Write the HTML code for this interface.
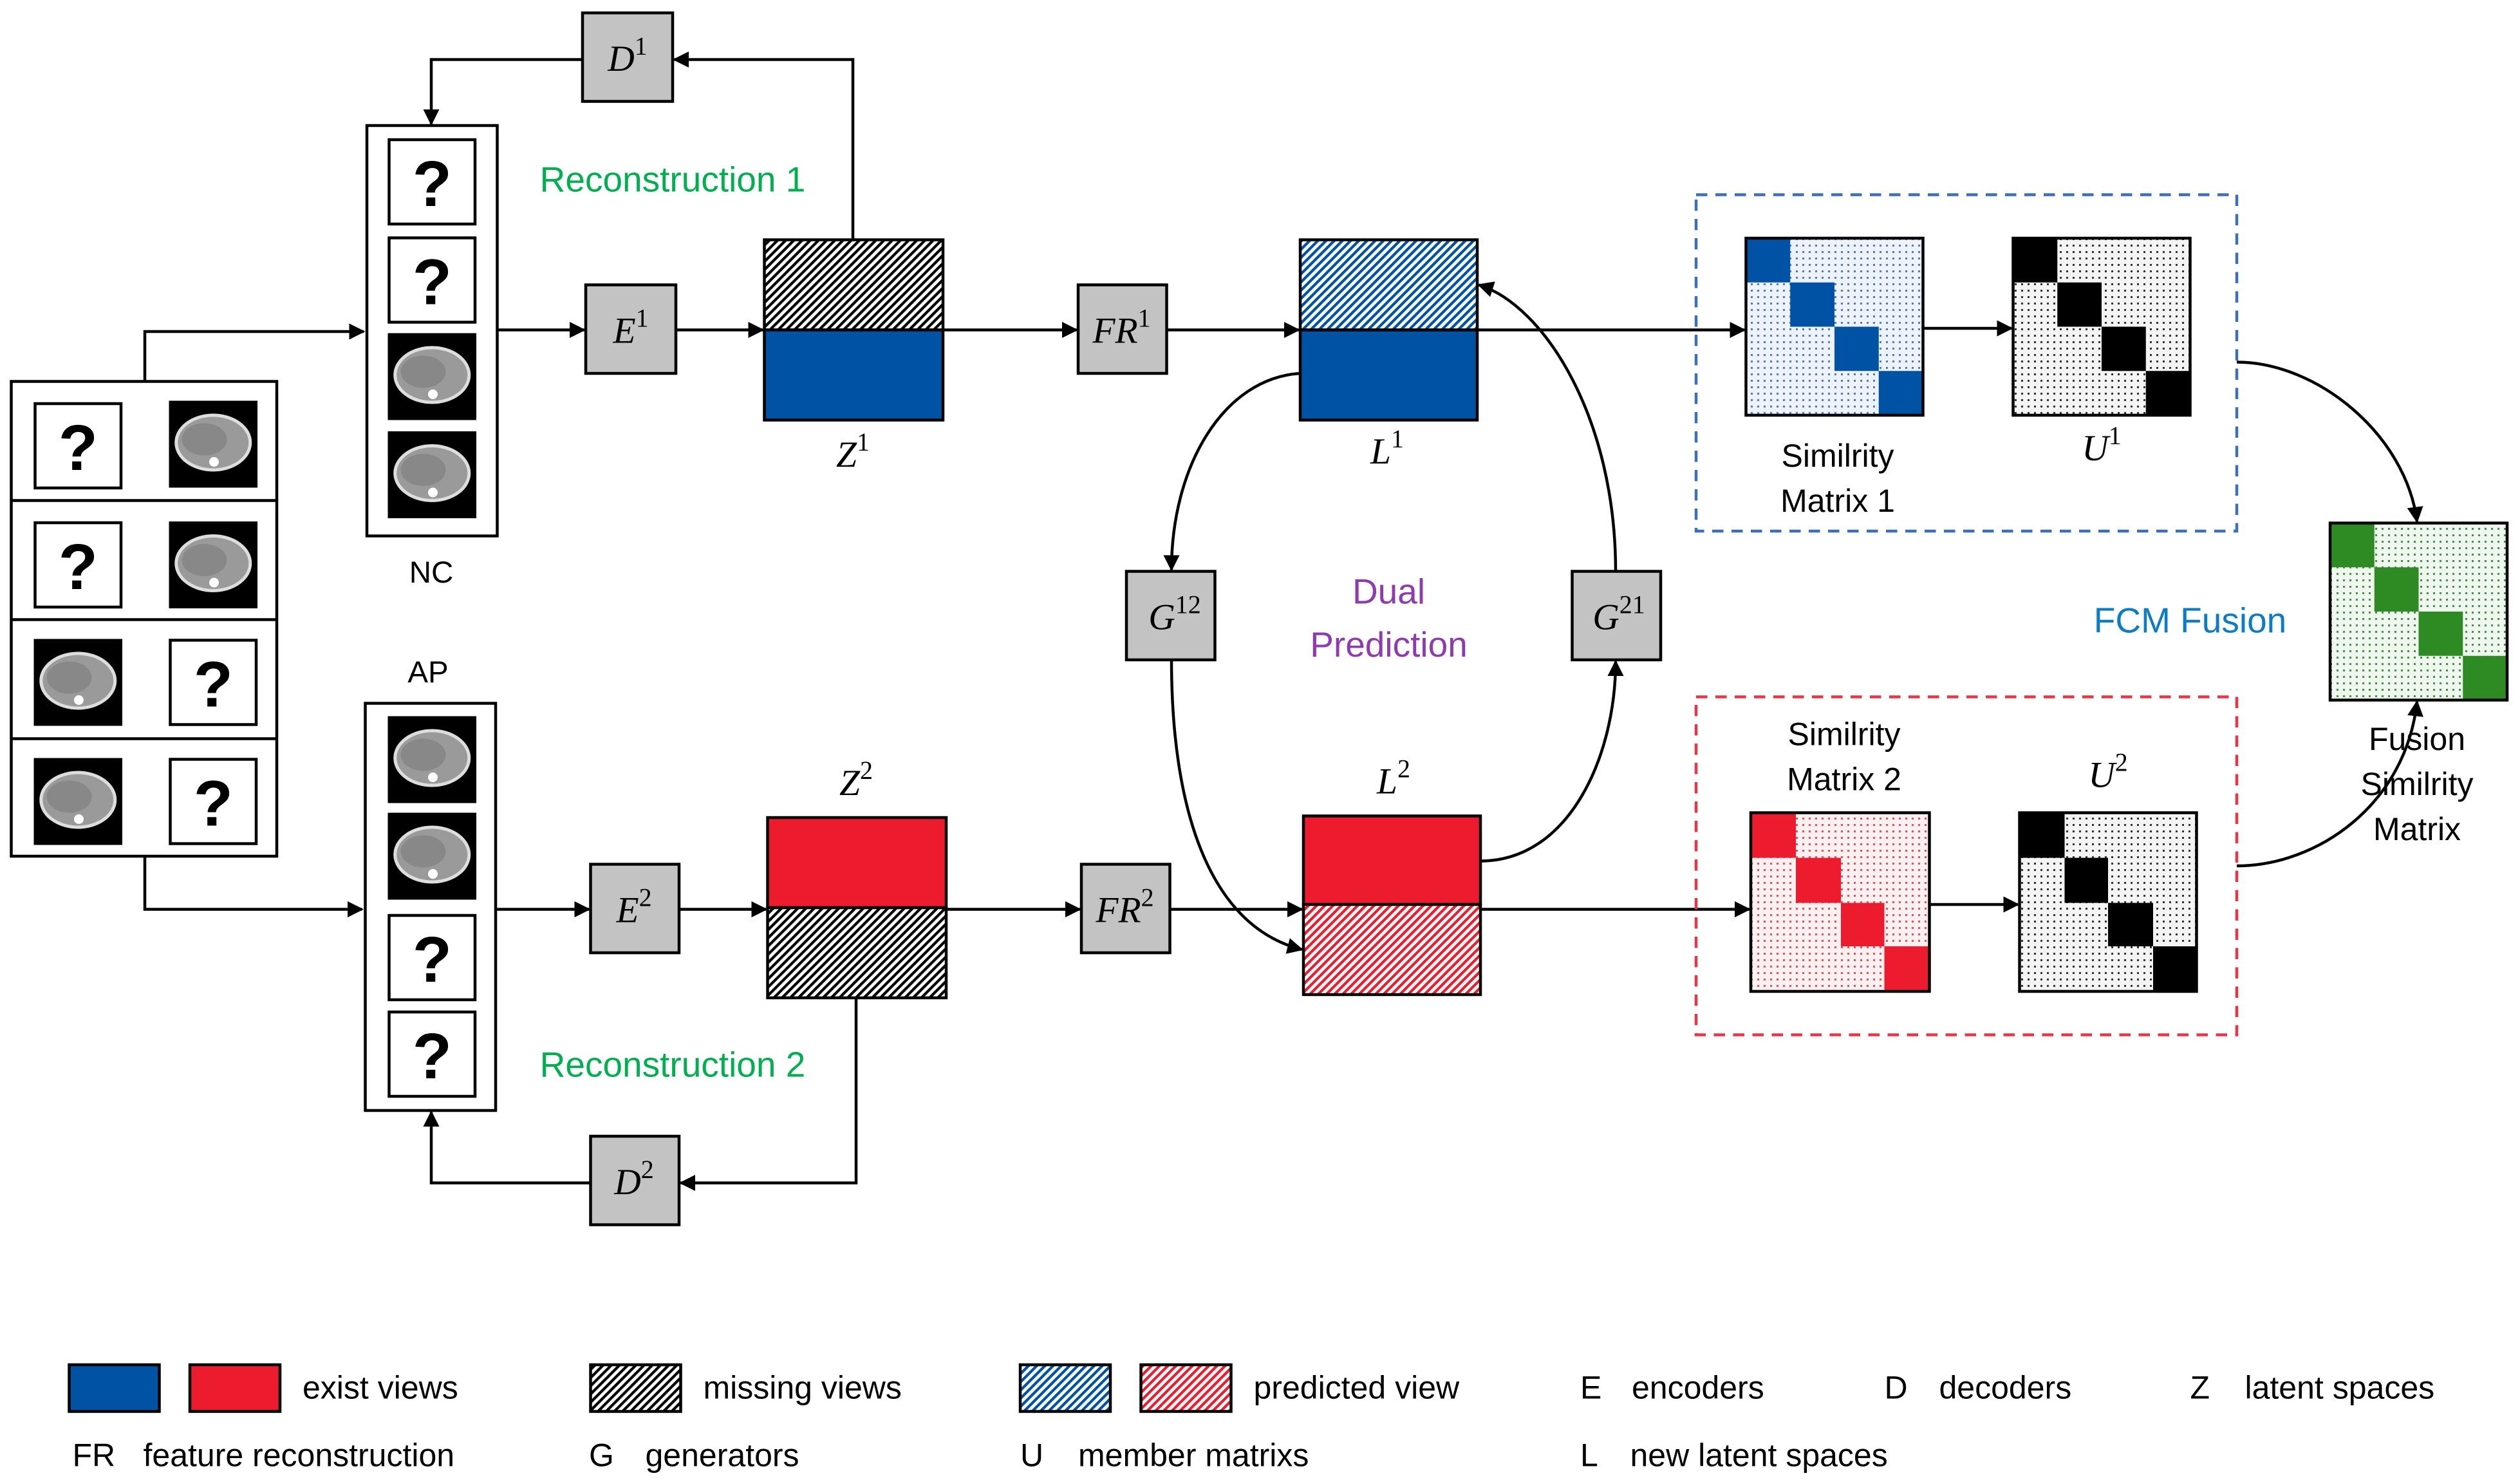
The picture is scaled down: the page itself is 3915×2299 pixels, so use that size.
<!DOCTYPE html>
<html><head><meta charset="utf-8"><style>
html,body{margin:0;padding:0;background:#fff;}
svg{display:block;}
.s{font-family:"Liberation Sans",sans-serif;}
.m{font-family:"Liberation Serif",serif;font-style:italic;}
</style></head><body>
<svg width="3915" height="2299" viewBox="0 0 1566 919.6" xmlns="http://www.w3.org/2000/svg">
<defs>
<pattern id="hk" width="3.6" height="3.6" patternUnits="userSpaceOnUse" patternTransform="rotate(45)"><rect width="3.6" height="3.6" fill="#fff"/><rect width="1.7" height="3.6" fill="#000"/></pattern>
<pattern id="hb" width="3.6" height="3.6" patternUnits="userSpaceOnUse" patternTransform="rotate(45)"><rect width="3.6" height="3.6" fill="#fff"/><rect width="1.7" height="3.6" fill="#0052a5"/></pattern>
<pattern id="hr" width="3.6" height="3.6" patternUnits="userSpaceOnUse" patternTransform="rotate(45)"><rect width="3.6" height="3.6" fill="#fff"/><rect width="1.7" height="3.6" fill="#ec1c2e"/></pattern>
<pattern id="db" width="4" height="4" patternUnits="userSpaceOnUse"><rect width="4" height="4" fill="#eef3fb"/><rect width="1.2" height="1.2" fill="#4a7bc4"/></pattern>
<pattern id="dr" width="4" height="4" patternUnits="userSpaceOnUse"><rect width="4" height="4" fill="#fdf0f1"/><rect width="1.2" height="1.2" fill="#e8505c"/></pattern>
<pattern id="dk" width="4" height="4" patternUnits="userSpaceOnUse"><rect width="4" height="4" fill="#f4f4f4"/><rect width="1.2" height="1.2" fill="#333"/></pattern>
<pattern id="dg" width="4" height="4" patternUnits="userSpaceOnUse"><rect width="4" height="4" fill="#f0f7ef"/><rect width="1.2" height="1.2" fill="#3a9a3a"/></pattern>
<marker id="a" markerWidth="10" markerHeight="10" refX="9" refY="5" orient="auto" markerUnits="userSpaceOnUse"><path d="M0,0 L10,5 L0,10 z" fill="#000"/></marker>
<g id="ct"><rect width="55" height="54" fill="#000"/><ellipse cx="27.5" cy="26" rx="23" ry="17" fill="#9a9a9a" stroke="#ddd" stroke-width="2"/><ellipse cx="22" cy="24" rx="14" ry="10" fill="#888"/><circle cx="28" cy="38" r="3" fill="#fff"/></g>
<g id="q"><rect x="0.8" y="0.8" width="53.4" height="52.4" fill="#fff" stroke="#000" stroke-width="1.8"/><text x="27.5" y="42" text-anchor="middle" class="s" font-size="40" font-weight="bold">?</text></g>
</defs>
<g fill="none" stroke="#000" stroke-width="1.8">
<polyline points="90,237 90,206 226,206" marker-end="url(#a)"/>
<polyline points="90,532 90,565 225,565" marker-end="url(#a)"/>
<line x1="309" y1="205" x2="363" y2="205" marker-end="url(#a)"/>
<line x1="420" y1="205" x2="474" y2="205" marker-end="url(#a)"/>
<line x1="586" y1="205" x2="669" y2="205" marker-end="url(#a)"/>
<line x1="725" y1="205" x2="807" y2="205" marker-end="url(#a)"/>
<line x1="918" y1="205" x2="1084" y2="205" marker-end="url(#a)"/>
<line x1="1195" y1="204" x2="1250" y2="204" marker-end="url(#a)"/>
<line x1="308" y1="565" x2="366" y2="565" marker-end="url(#a)"/>
<line x1="422" y1="565" x2="476" y2="565" marker-end="url(#a)"/>
<line x1="588" y1="565" x2="671" y2="565" marker-end="url(#a)"/>
<line x1="727" y1="565" x2="809" y2="565" marker-end="url(#a)"/>
<line x1="920" y1="565" x2="1087" y2="565" marker-end="url(#a)"/>
<line x1="1199" y1="562" x2="1254" y2="562" marker-end="url(#a)"/>
<polyline points="530,149 530,37 419,37" marker-end="url(#a)"/>
<polyline points="362,37 268,37 268,77" marker-end="url(#a)"/>
<polyline points="532,620 532,735 423,735" marker-end="url(#a)"/>
<polyline points="367,735 268,735 268,691" marker-end="url(#a)"/>
<path d="M808,232 C760,235 728,290 728,354" marker-end="url(#a)"/>
<path d="M728,410 C728,500 750,575 809,590" marker-end="url(#a)"/>
<path d="M920,535 C975,535 1004,470 1004,411" marker-end="url(#a)"/>
<path d="M1004,355 C1004,260 960,190 919,177" marker-end="url(#a)"/>
<path d="M1390,225 C1440,225 1495,270 1502,324" marker-end="url(#a)"/>
<path d="M1390,538 C1440,538 1495,500 1502,436" marker-end="url(#a)"/>
</g>
<rect x="7" y="237" width="165" height="295" fill="#fff" stroke="#000" stroke-width="1.8"/>
<g stroke="#000" stroke-width="1.8"><line x1="7" y1="311" x2="172" y2="311"/><line x1="7" y1="385" x2="172" y2="385"/><line x1="7" y1="459" x2="172" y2="459"/></g>
<use href="#q" x="21" y="250"/><use href="#ct" x="105" y="249"/>
<use href="#q" x="21" y="324"/><use href="#ct" x="105" y="324"/>
<use href="#ct" x="21" y="397"/><use href="#q" x="105" y="397"/>
<use href="#ct" x="21" y="471"/><use href="#q" x="105" y="471"/>
<rect x="228" y="78" width="81" height="255" fill="#fff" stroke="#000" stroke-width="1.8"/>
<use href="#q" x="241" y="86"/><use href="#q" x="241" y="147"/><use href="#ct" x="241" y="207"/><use href="#ct" x="241" y="268"/>
<text x="268" y="362" text-anchor="middle" class="s" font-size="19">NC</text>
<rect x="227" y="437" width="81" height="253" fill="#fff" stroke="#000" stroke-width="1.8"/>
<use href="#ct" x="241" y="445"/><use href="#ct" x="241" y="505"/><use href="#q" x="241" y="568"/><use href="#q" x="241" y="628"/>
<text x="266" y="424" text-anchor="middle" class="s" font-size="19">AP</text>
<g fill="#c3c3c3" stroke="#000" stroke-width="1.8">
<rect x="362" y="8" width="56" height="55"/><rect x="367" y="706" width="55" height="55"/>
<rect x="364" y="177" width="56" height="55"/><rect x="367" y="537" width="55" height="55"/>
<rect x="670" y="177" width="55" height="55"/><rect x="672" y="537" width="55" height="55"/>
<rect x="700" y="355" width="55" height="55"/><rect x="977" y="355" width="55" height="55"/>
</g>
<g class="m" font-size="23" text-anchor="middle">
<text x="390" y="44">D<tspan font-style="normal" font-size="16" dy="-10">1</tspan></text>
<text x="394" y="742">D<tspan font-style="normal" font-size="16" dy="-10">2</tspan></text>
<text x="392" y="213">E<tspan font-style="normal" font-size="16" dy="-10">1</tspan></text>
<text x="394" y="573">E<tspan font-style="normal" font-size="16" dy="-10">2</tspan></text>
<text x="697" y="213">FR<tspan font-style="normal" font-size="16" dy="-10">1</tspan></text>
<text x="699" y="573">FR<tspan font-style="normal" font-size="16" dy="-10">2</tspan></text>
<text x="730" y="391">G<tspan font-style="normal" font-size="16" dy="-10">12</tspan></text>
<text x="1006" y="391">G<tspan font-style="normal" font-size="16" dy="-10">21</tspan></text>
<text x="530" y="290">Z<tspan font-style="normal" font-size="16" dy="-10">1</tspan></text>
<text x="532" y="494">Z<tspan font-style="normal" font-size="16" dy="-10">2</tspan></text>
<text x="862" y="288">L<tspan font-style="normal" font-size="16" dy="-10">1</tspan></text>
<text x="866" y="493">L<tspan font-style="normal" font-size="16" dy="-10">2</tspan></text>
<text x="1306" y="286">U<tspan font-style="normal" font-size="16" dy="-10">1</tspan></text>
<text x="1310" y="489">U<tspan font-style="normal" font-size="16" dy="-10">2</tspan></text>
</g>
<g stroke="#000" stroke-width="1.8">
<rect x="475" y="149" width="111" height="56" fill="url(#hk)"/><rect x="475" y="205" width="111" height="56" fill="#0052a5"/>
<rect x="477" y="508" width="111" height="56" fill="#ec1c2e"/><rect x="477" y="564" width="111" height="56" fill="url(#hk)"/>
<rect x="808" y="149" width="110" height="56" fill="url(#hb)"/><rect x="808" y="205" width="110" height="56" fill="#0052a5"/>
<rect x="810" y="507" width="110" height="55" fill="#ec1c2e"/><rect x="810" y="562" width="110" height="56" fill="url(#hr)"/>
</g>
<text x="418" y="119" text-anchor="middle" class="s" font-size="22" fill="#00b050">Reconstruction 1</text>
<text x="418" y="669" text-anchor="middle" class="s" font-size="22" fill="#00b050">Reconstruction 2</text>
<text x="863" y="375" text-anchor="middle" class="s" font-size="22" fill="#8e3bb0">Dual</text>
<text x="863" y="408" text-anchor="middle" class="s" font-size="22" fill="#8e3bb0">Prediction</text>
<text x="1361" y="393" text-anchor="middle" class="s" font-size="22" fill="#0a7cc8">FCM Fusion</text>
<rect x="1054" y="121" width="336" height="209" fill="none" stroke="#3a6fbf" stroke-width="1.8" stroke-dasharray="7,5"/>
<rect x="1054" y="433" width="336" height="210" fill="none" stroke="#ee3344" stroke-width="1.8" stroke-dasharray="7,5"/>
<g>
<rect x="1085" y="148" width="110" height="110" fill="url(#db)"/>
<g fill="#0052a5"><rect x="1085" y="148" width="27.5" height="27.5"/><rect x="1112.5" y="175.5" width="27.5" height="27.5"/><rect x="1140" y="203" width="27.5" height="27.5"/><rect x="1167.5" y="230.5" width="27.5" height="27.5"/></g>
<rect x="1085" y="148" width="110" height="110" fill="none" stroke="#000" stroke-width="1.8"/>
<rect x="1251" y="148" width="110" height="110" fill="url(#dk)"/>
<g fill="#000"><rect x="1251" y="148" width="27.5" height="27.5"/><rect x="1278.5" y="175.5" width="27.5" height="27.5"/><rect x="1306" y="203" width="27.5" height="27.5"/><rect x="1333.5" y="230.5" width="27.5" height="27.5"/></g>
<rect x="1251" y="148" width="110" height="110" fill="none" stroke="#000" stroke-width="1.8"/>
<rect x="1088" y="505" width="111" height="111" fill="url(#dr)"/>
<g fill="#ec1c2e"><rect x="1088" y="505" width="28" height="28"/><rect x="1116" y="533" width="28" height="28"/><rect x="1144" y="561" width="27" height="27"/><rect x="1171" y="588" width="28" height="28"/></g>
<rect x="1088" y="505" width="111" height="111" fill="none" stroke="#000" stroke-width="1.8"/>
<rect x="1255" y="505" width="110" height="111" fill="url(#dk)"/>
<g fill="#000"><rect x="1255" y="505" width="28" height="28"/><rect x="1283" y="533" width="27" height="28"/><rect x="1310" y="561" width="28" height="27"/><rect x="1338" y="588" width="27" height="28"/></g>
<rect x="1255" y="505" width="110" height="111" fill="none" stroke="#000" stroke-width="1.8"/>
<rect x="1448" y="325" width="110" height="110" fill="url(#dg)"/>
<g fill="#2e8b23"><rect x="1448" y="325" width="27.5" height="27.5"/><rect x="1475.5" y="352.5" width="27.5" height="27.5"/><rect x="1503" y="380" width="27.5" height="27.5"/><rect x="1530.5" y="407.5" width="27.5" height="27.5"/></g>
<rect x="1448" y="325" width="110" height="110" fill="none" stroke="#000" stroke-width="1.8"/>
</g>
<g class="s" font-size="20" text-anchor="middle">
<text x="1142" y="290">Similrity</text><text x="1142" y="318">Matrix 1</text>
<text x="1146" y="463">Similrity</text><text x="1146" y="491">Matrix 2</text>
<text x="1502" y="466">Fusion</text><text x="1502" y="494">Similrity</text><text x="1502" y="522">Matrix</text>
</g>
<g stroke="#000" stroke-width="1.8">
<rect x="43" y="848" width="56" height="29" fill="#0052a5"/><rect x="118" y="848" width="56" height="29" fill="#ec1c2e"/>
<rect x="367" y="848" width="56" height="29" fill="url(#hk)"/>
<rect x="634" y="848" width="56" height="29" fill="url(#hb)"/><rect x="709" y="848" width="56" height="29" fill="url(#hr)"/>
</g>
<g class="s" font-size="20">
<text x="188" y="869">exist views</text>
<text x="437" y="869">missing views</text>
<text x="779" y="869">predicted view</text>
<text x="982" y="869">E</text><text x="1014" y="869">encoders</text>
<text x="1171" y="869">D</text><text x="1205" y="869">decoders</text>
<text x="1361" y="869">Z</text><text x="1395" y="869">latent spaces</text>
<text x="45" y="911">FR</text><text x="89" y="911">feature reconstruction</text>
<text x="366" y="911">G</text><text x="401" y="911">generators</text>
<text x="634" y="911">U</text><text x="670" y="911">member matrixs</text>
<text x="982" y="911">L</text><text x="1013" y="911">new latent spaces</text>
</g>
</svg>
</body></html>
